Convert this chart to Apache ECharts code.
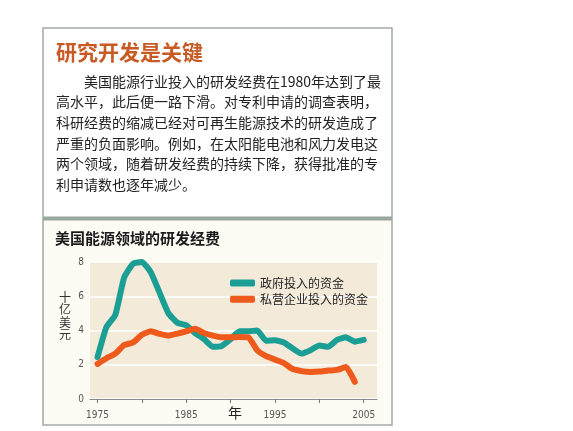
<!DOCTYPE html>
<html>
<head>
<meta charset="utf-8">
<script src="https://cdn.jsdelivr.net/npm/echarts@6/dist/echarts.min.js"></script>
<style>
  html, body { margin: 0; padding: 0; background: #fff; }
  #chart { width: 573px; height: 431px; }
</style>
</head>
<body>
<div id="chart"></div>
<script>
// 年份与两组研发经费（十亿美元）
const years = [1975, 1976, 1977, 1978, 1979, 1980, 1981, 1982, 1983, 1984,
  1985, 1986, 1987, 1988, 1989, 1990, 1991, 1992, 1993, 1994,
  1995, 1996, 1997, 1998, 1999, 2000, 2001, 2002, 2003, 2004, 2005];
const govFunds = [2.45, 4.2, 4.9, 7.1, 7.9, 8.0, 7.4, 6.2, 5.0, 4.45,
  4.3, 3.85, 3.5, 3.05, 3.1, 3.5, 3.95, 3.95, 4.0, 3.4,
  3.43, 3.3, 2.95, 2.65, 2.85, 3.12, 3.05, 3.45, 3.6, 3.35, 3.45];
const privateFunds = [2.05, 2.38, 2.65, 3.15, 3.3, 3.75, 3.95, 3.8, 3.7, 3.82,
  3.95, 4.1, 3.85, 3.7, 3.6, 3.6, 3.62, 3.6, 2.85, 2.5,
  2.3, 2.1, 1.75, 1.63, 1.58, 1.6, 1.66, 1.7, 1.87, 1.0];
const xTicks = [1975, 1980, 1985, 1990, 1995, 2000, 2005];
const xLabels = [1975, 1985, 1995, 2005];

const seriesNames = ['政府投入的资金', '私营企业投入的资金'];
const headline = '研究开发是关键';
const bodyLines = [
  '\u3000\u3000美国能源行业投入的研发经费在1980年达到了最',
  '高水平，此后便一路下滑。对专利申请的调查表明，',
  '科研经费的缩减已经对可再生能源技术的研发造成了',
  '严重的负面影响。例如，在太阳能电池和风力发电这',
  '两个领域，随着研发经费的持续下降，获得批准的专',
  '利申请数也逐年减少。'
];
const chartTitle = '美国能源领域的研发经费';
const yName = '十亿美元';
const xName = '年';

const font = '"Noto Sans CJK SC", "Noto Sans", sans-serif';
const chart = echarts.init(document.getElementById('chart'));

const option = {
  backgroundColor: '#fff',
  textStyle: { fontFamily: font },
  animation: false,
  graphic: [
    // 下半部分浅色底
    { type: 'rect', shape: { x: 43, y: 219, width: 349, height: 206 },
      style: { fill: '#fcfbf4' }, silent: true, z: -10 },
    // 外框
    { type: 'rect', shape: { x: 43, y: 28, width: 349, height: 397 },
      style: { fill: 'none', stroke: '#a3aca7', lineWidth: 1.5 }, silent: true },
    // 分隔条
    { type: 'rect', shape: { x: 43, y: 216.5, width: 349, height: 4 },
      style: { fill: '#9ca6a1' }, silent: true },
    { type: 'text', left: 56, top: 42,
      style: { text: headline, fill: '#c85a24', font: 'bold 21px ' + font } },
    { type: 'text', left: 56, top: 71,
      style: { text: bodyLines.join('\n'), fill: '#222', font: '14px ' + font, lineHeight: 20.7 } },
    { type: 'text', left: 55, top: 231,
      style: { text: chartTitle, fill: '#1a1a1a', font: 'bold 15px ' + font } },
    { type: 'text', left: 59, top: 291,
      style: { text: yName.split('').join('\n'), fill: '#333', font: '12px ' + font, lineHeight: 12.5 } },
    { type: 'text', left: 228, top: 406,
      style: { text: xName, fill: '#222', font: '14px ' + font } }
  ],
  legend: {
    data: seriesNames,
    orient: 'vertical',
    left: 225,
    top: 271,
    icon: 'roundRect',
    itemWidth: 25,
    itemHeight: 7,
    itemGap: 2.3,
    textStyle: { fontSize: 12, color: '#222', lineHeight: 14 }
  },
  grid: {
    left: 90, right: 196, top: 262, bottom: 32,
    show: true, backgroundColor: '#f4ead9', borderWidth: 0
  },
  xAxis: {
    type: 'value',
    min: 1974.15,
    max: 2006.5,
    axisLine: { show: true, lineStyle: { color: '#8a8a8a', width: 1 } },
    axisTick: { show: true, customValues: xTicks, length: 4, lineStyle: { color: '#777' } },
    axisLabel: {
      customValues: xLabels, margin: 11, fontSize: 10, color: '#555',
      fontFamily: '"DejaVu Sans Condensed", sans-serif',
      formatter: v => String(v)
    },
    splitLine: { show: false }
  },
  yAxis: {
    type: 'value',
    min: 0,
    max: 8,
    interval: 2,
    axisLine: { show: false },
    axisTick: { show: false },
    axisLabel: { margin: 6, fontSize: 10, color: '#555',
      fontFamily: '"DejaVu Sans Condensed", sans-serif' },
    splitLine: { show: true, lineStyle: { color: '#ffffff', width: 1.5 } }
  },
  series: [
    {
      name: seriesNames[0],
      type: 'line',
      data: years.map((y, i) => [y, govFunds[i]]),
      symbol: 'none',
      smooth: 0.15,
      color: '#1b9e94',
      lineStyle: { width: 6, cap: 'round', join: 'round' }
    },
    {
      name: seriesNames[1],
      type: 'line',
      data: privateFunds.map((v, i) => [years[i], v]),
      symbol: 'none',
      smooth: 0.15,
      color: '#ee5a1c',
      lineStyle: { width: 6, cap: 'round', join: 'round' }
    }
  ]
};

chart.setOption(option);
</script>
</body>
</html>
